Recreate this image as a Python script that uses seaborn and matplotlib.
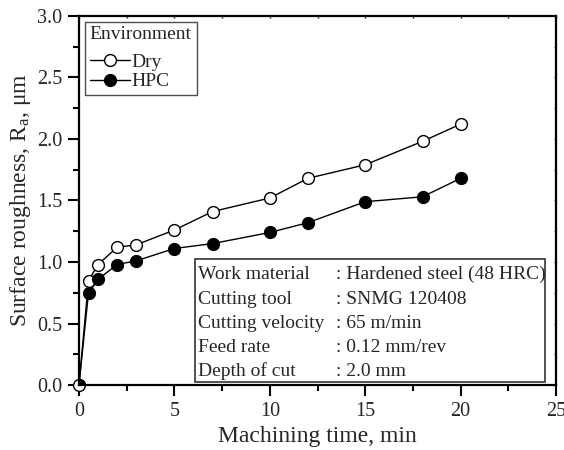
import matplotlib
matplotlib.use("Agg")
import matplotlib.pyplot as plt
import seaborn as sns
import pandas as pd
from matplotlib.patches import Rectangle
from matplotlib.ticker import MultipleLocator

# Machining time (min) and average surface roughness Ra (µm)
time_min = [0, 0.5, 1, 2, 3, 5, 7, 10, 12, 15, 18, 20]
ra_dry = [0.0, 0.85, 0.98, 1.12, 1.14, 1.26, 1.41, 1.52, 1.68, 1.79, 1.98, 2.12]
ra_hpc = [0.0, 0.75, 0.86, 0.98, 1.01, 1.11, 1.15, 1.24, 1.32, 1.49, 1.53, 1.68]

x_ticks = [0, 5, 10, 15, 20, 25]
y_ticks = [0.0, 0.5, 1.0, 1.5, 2.0, 2.5, 3.0]

condition_labels = ["Work material", "Cutting tool", "Cutting velocity", "Feed rate", "Depth of cut"]
condition_values = [": Hardened steel (48 HRC)", ": SNMG 120408", ": 65 m/min",
                    ": 0.12 mm/rev", ": 2.0 mm"]

sns.set_theme(style="ticks")
plt.rcParams["font.family"] = ["Liberation Serif", "DejaVu Serif"]
plt.rcParams["mathtext.fontset"] = "custom"
plt.rcParams["mathtext.rm"] = "Liberation Serif"
plt.rcParams["mathtext.it"] = "Liberation Serif:italic"

df = pd.DataFrame({"time": time_min * 2,
                   "ra": ra_dry + ra_hpc,
                   "env": ["Dry"] * len(time_min) + ["HPC"] * len(time_min)})

fig = plt.figure(figsize=(5.64, 4.5), dpi=100)
ax = fig.add_axes([0.140, 0.144, 0.846, 0.821])

sns.lineplot(data=df[df.env == "Dry"], x="time", y="ra", ax=ax, color="black",
             marker="o", markersize=8.5, markerfacecolor="white", markeredgecolor="black",
             markeredgewidth=1.0, linewidth=1.0, label="Dry", clip_on=False)
sns.lineplot(data=df[df.env == "HPC"], x="time", y="ra", ax=ax, color="black",
             marker="o", markersize=8.5, markerfacecolor="black", markeredgecolor="black",
             markeredgewidth=1.0, linewidth=1.0, label="HPC")

ax.set_xlim(0, 25)
ax.set_ylim(0, 3.0)
ax.set_xticks(x_ticks)
ax.set_xticklabels([str(v) for v in x_ticks])
ax.set_yticks(y_ticks)
ax.set_yticklabels([f"{v:.1f}" for v in y_ticks])
ax.xaxis.set_minor_locator(MultipleLocator(2.5))
ax.yaxis.set_minor_locator(MultipleLocator(0.25))

for side in ["top", "right", "bottom", "left"]:
    ax.spines[side].set_visible(True)
    ax.spines[side].set_linewidth(1.6)
    ax.spines[side].set_color("black")

# Outward ticks on the bottom/left axes, short inward ticks on top/right
ax.tick_params(which="both", direction="out", bottom=True, left=True,
               top=False, right=False, width=1.5, color="black")
ax.tick_params(which="major", length=8, labelsize=14.5, pad=4)
ax.tick_params(which="minor", length=4.5)
ax2 = ax.secondary_xaxis("top")
ax2.set_xticks(x_ticks)
ax2.xaxis.set_minor_locator(MultipleLocator(2.5))
ax2.tick_params(which="both", direction="in", length=1.5, width=1.0, labeltop=False)
ax2.spines["top"].set_visible(False)
ay2 = ax.secondary_yaxis("right")
ay2.set_yticks(y_ticks)
ay2.yaxis.set_minor_locator(MultipleLocator(0.25))
ay2.tick_params(which="both", direction="in", length=1.5, width=1.0, labelright=False)
ay2.spines["right"].set_visible(False)

ax.set_xlabel("Machining time, min", fontsize=17, labelpad=4)
ax.set_ylabel("Surface roughness, R$_\\mathrm{a}$, \u03bcm", fontsize=17, labelpad=3)

leg = ax.legend(title="Environment", loc="upper left", bbox_to_anchor=(0.0, 1.0),
                fontsize=14, title_fontsize=14, frameon=True, fancybox=False,
                handlelength=2.1, handletextpad=0.05, borderpad=0.25,
                labelspacing=0.1, borderaxespad=0.3)
leg.get_frame().set_edgecolor("#222222")
leg.get_frame().set_linewidth(1.0)
leg._legend_box.align = "left"
leg._legend_box.sep = 7

# Cutting conditions box
box = Rectangle((0.243, 0.009), 0.734, 0.333, transform=ax.transAxes,
                facecolor="white", edgecolor="#333333", linewidth=1.2, zorder=5)
ax.add_patch(box)
row_y = [0.288, 0.220, 0.155, 0.090, 0.025]
for lab, val, yy in zip(condition_labels, condition_values, row_y):
    ax.text(0.250, yy, lab, transform=ax.transAxes, fontsize=14,
            va="baseline", ha="left", zorder=6)
    ax.text(0.539, yy, val, transform=ax.transAxes, fontsize=14,
            va="baseline", ha="left", zorder=6)

fig.savefig("out.png", dpi=100)
